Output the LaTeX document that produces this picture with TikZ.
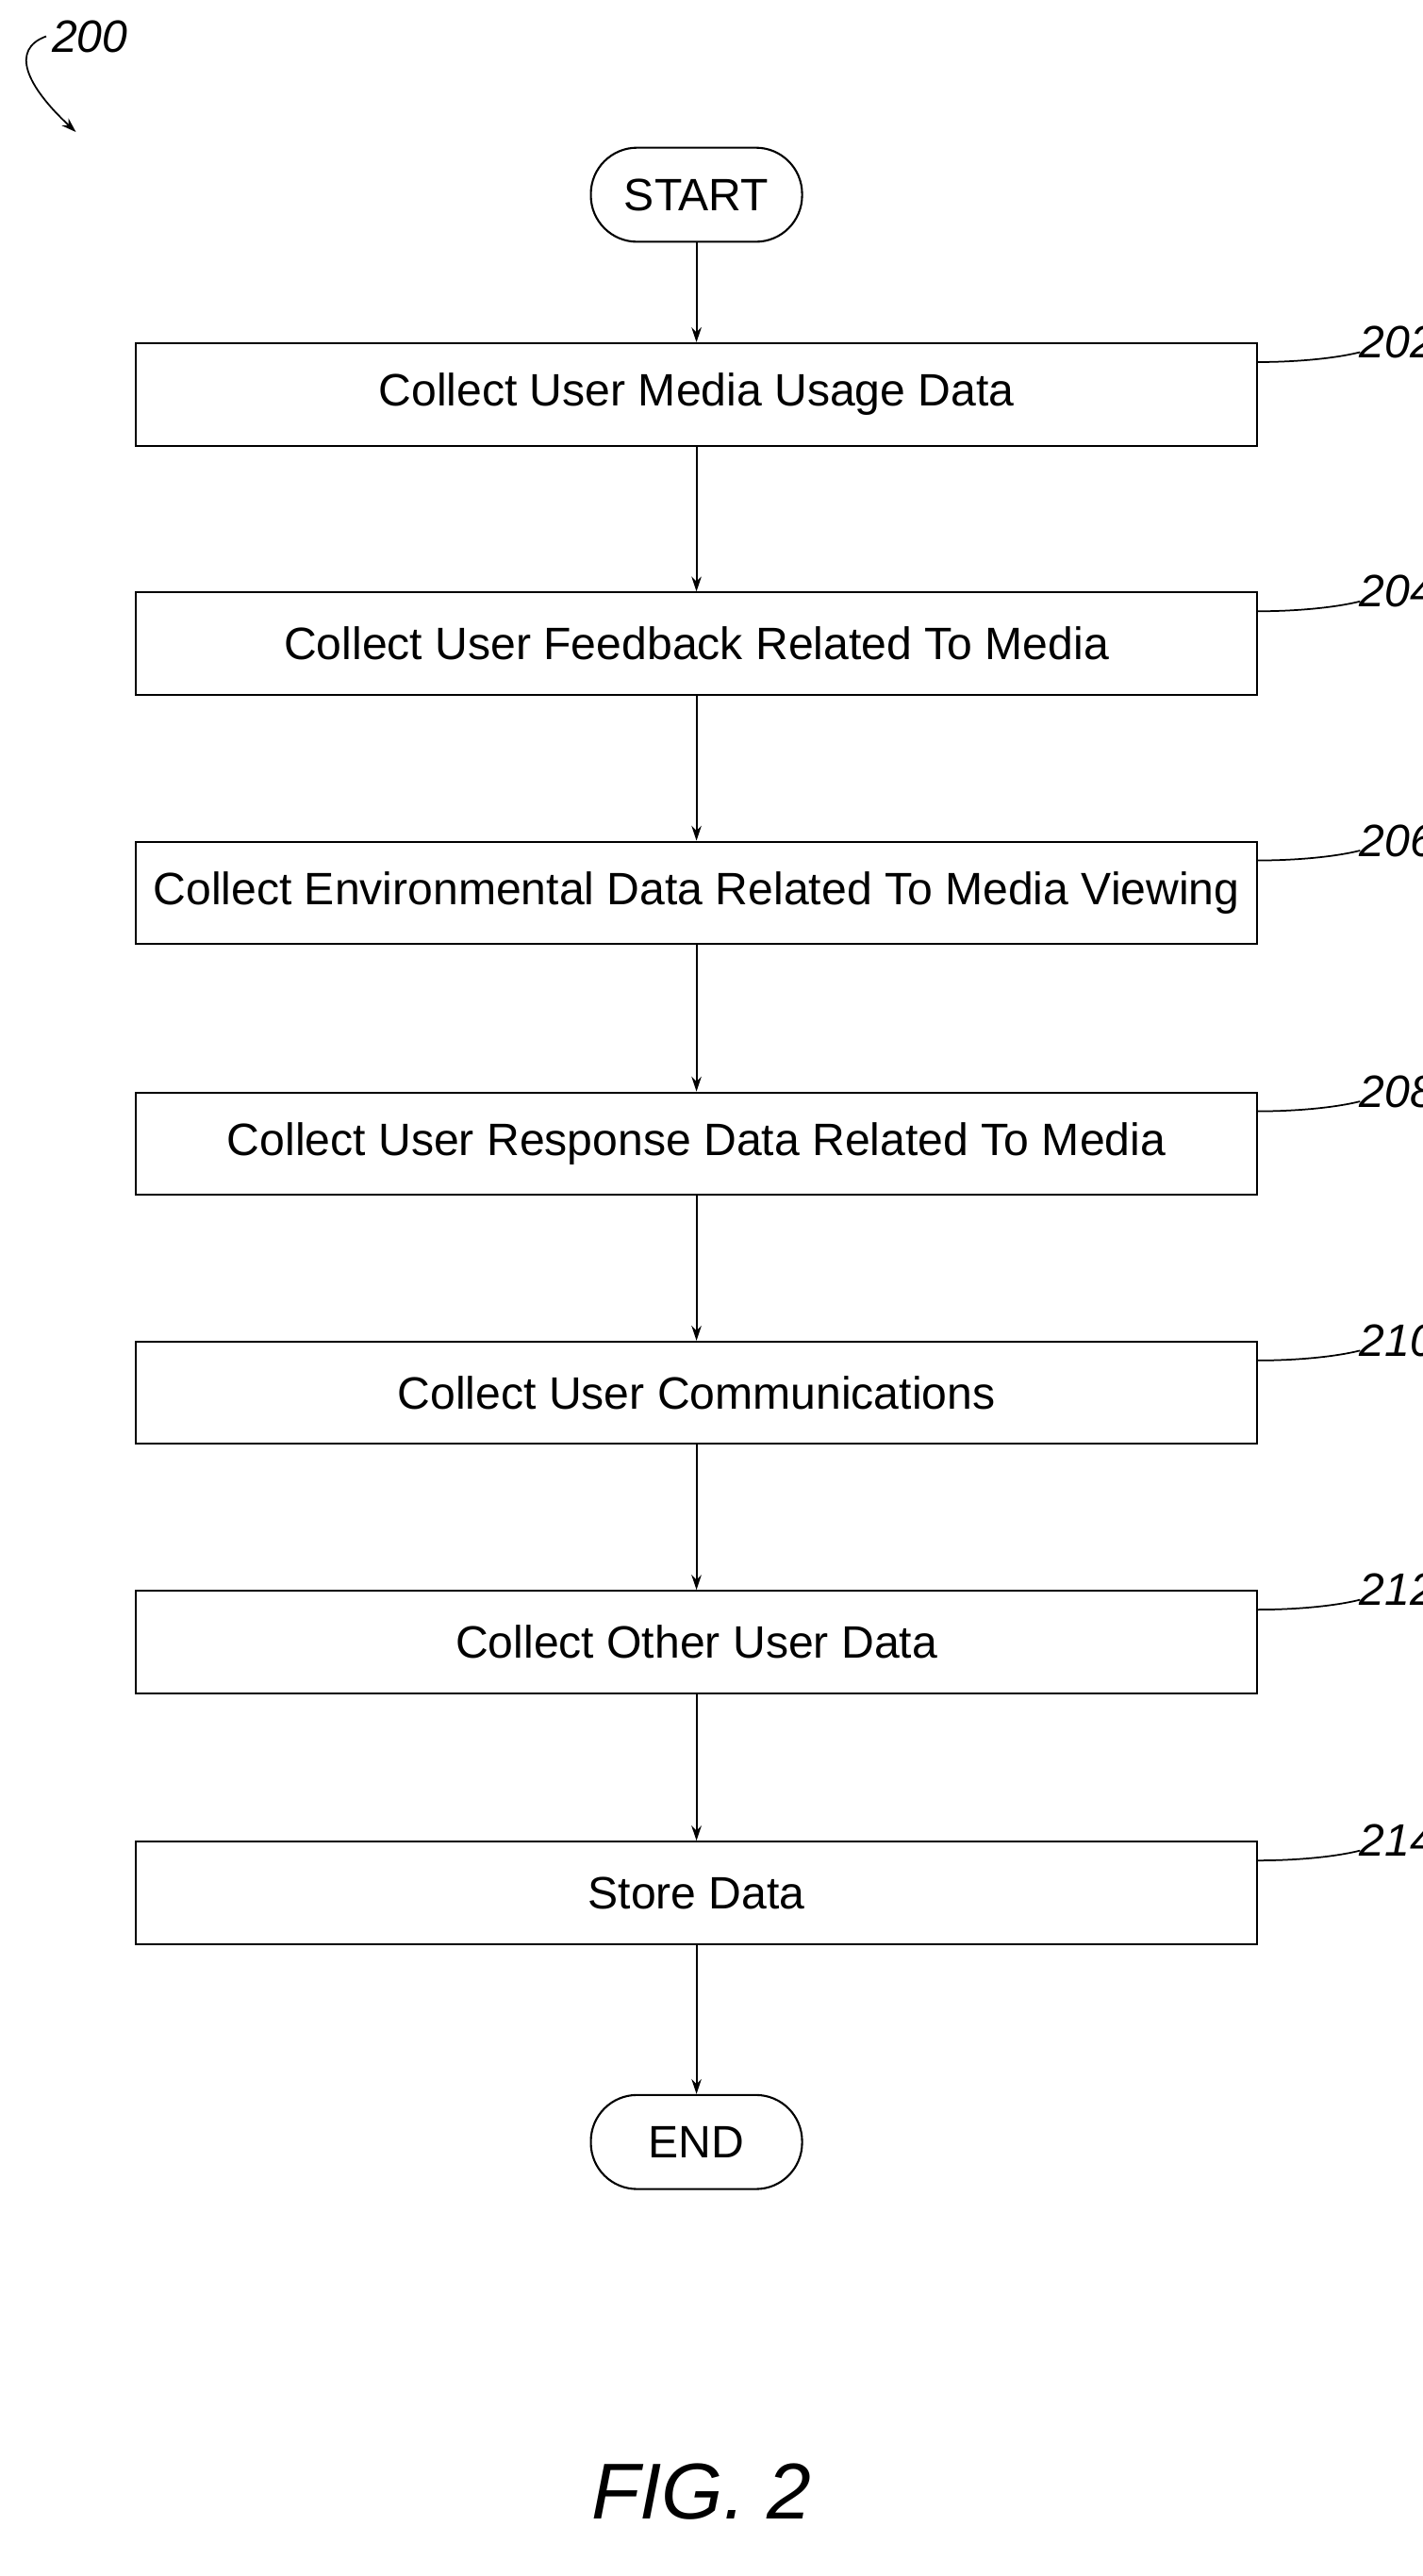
\documentclass[tikz,border=0pt]{standalone}
\usepackage{fontspec}
\setmainfont{Liberation Sans}
\usetikzlibrary{positioning,shapes.geometric,arrows.meta}
\tikzset{>={Stealth[length=9pt,width=6pt]}}

\begin{document}
\begin{tikzpicture}[
        x=1pt, y=-1pt,
        font=\fontsize{27.5}{32}\selectfont,
        stage/.style={
            draw,
            line width=1.2pt,
            minimum height=62pt,
            minimum width=679pt,
            inner sep=0pt,
          },
        term/.style={
            draw,
            line width=1.2pt,
            rounded corners=28pt,
            minimum height=57pt,
            minimum width=128pt,
          },
        tag/.style={
            font=\fontsize{27.5}{32}\selectfont\itshape,
            anchor=west,
          },
        flow/.style={->, line width=1.2pt},
      ]
      \useasboundingbox (0,0) rectangle (862,1561);
      \node [term] (start) at (422,118) {START};
      \node [stage] (collect) at (422,239) {Collect User Media Usage Data};
      \node [stage] (feedback) at (422,390) {Collect User Feedback Related To Media};
      \node [stage] (environ) at (422,541) {Collect Environmental Data Related To Media Viewing};
      \node [stage] (response) at (422,693) {Collect User Response Data Related To Media};
      \node [stage] (comms) at (422,844) {Collect User Communications};
      \node [stage] (other) at (422,995) {Collect Other User Data};
      \node [stage] (store) at (422,1147) {Store Data};
      \node [term] (finish) at (422,1298) {END};

      \draw[flow] (start) -- (collect);
      \draw[flow] (collect) -- (feedback);
      \draw[flow] (feedback) -- (environ);
      \draw[flow] (environ) -- (response);
      \draw[flow] (response) -- (comms);
      \draw[flow] (comms) -- (other);
      \draw[flow] (other) -- (store);
      \draw[flow] (store) -- (finish);

      % reference numerals
      \foreach \blk/\num in {collect/202,feedback/204,environ/206,response/208,comms/210,other/212,store/214} {
        \node [tag] (tag\num) at ([xshift=58pt,yshift=0pt]\blk.north east) {\num};
        \draw[line width=1pt] ([yshift=-12pt]\blk.north east)
          .. controls +(22,0) and +(-16,4) .. ([xshift=4pt,yshift=-6pt]tag\num.west);
      }

      \node [tag] (fig) at (28,22) {200};
      \coordinate (figend) at (46,80);
      \draw[->, line width=1pt] (fig.west) .. controls (6,30) and (16,52) .. (figend);

      \node [font=\fontsize{48}{52}\selectfont\itshape] (caption) at (425,1510) {FIG. 2};
    \end{tikzpicture}
\end{document}
